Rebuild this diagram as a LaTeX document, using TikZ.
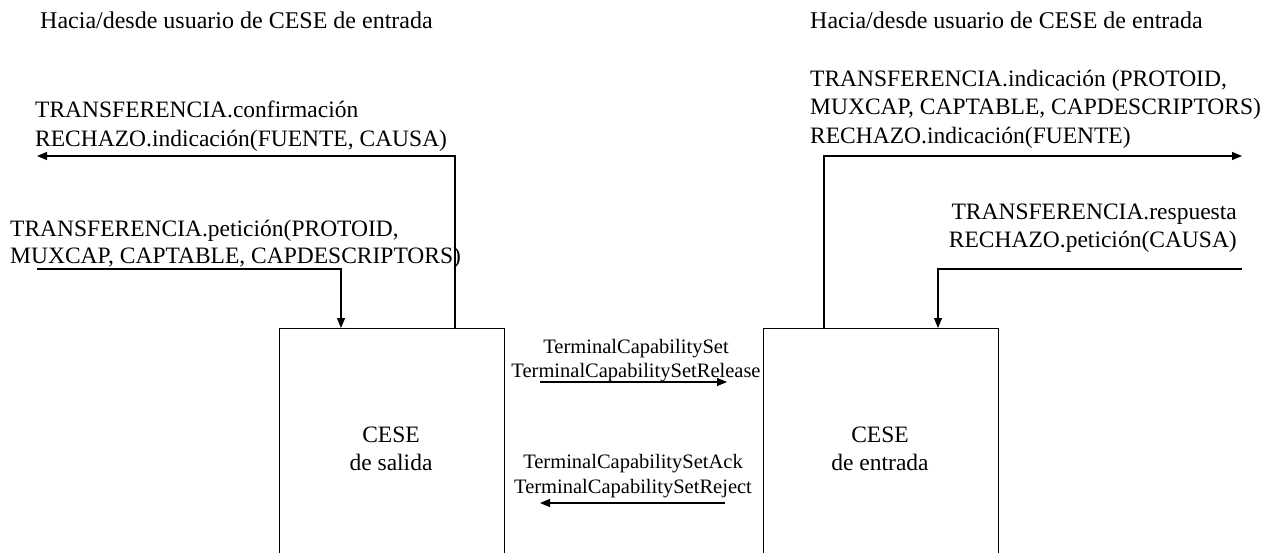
\documentclass[tikz,border=0pt]{standalone}
\usepackage{fontspec}
\setmainfont{Liberation Serif}
\usetikzlibrary{arrows.meta}
\begin{document}
\begin{tikzpicture}[x=1pt,y=-1pt,
  lbl/.style={inner sep=0pt,font=\fontsize{23.5}{28}\selectfont},
  hdr/.style={inner sep=0pt,font=\fontsize{24}{28}\selectfont},
  msg/.style={inner sep=0pt,font=\fontsize{20.5}{24}\selectfont},
  entity/.style={draw,line width=1.2pt,minimum width=225pt,minimum height=260pt,anchor=north west,inner sep=0pt},
  wire/.style={line width=1.2pt},
  arr/.style={wire,-{Triangle[length=10pt,width=8pt]}}]
\useasboundingbox (0,0) rectangle (1274,553);
\clip (0,0) rectangle (1274,553);
% boxes
\node[entity,minimum width=225pt] (out) at (279,328) {};
\node[entity,minimum width=235pt] (in) at (763,328) {};
\node[lbl,anchor=base] (outa) at (391,442) {CESE};
\node[lbl,anchor=base] (outb) at (391,470) {de salida};
\node[lbl,anchor=base] (ina) at (880,442) {CESE};
\node[lbl,anchor=base] (inb) at (880,470) {de entrada};
% headers
\node[hdr,anchor=base west] (h1) at (40,29) {Hacia/desde usuario de CESE de entrada};
\node[hdr,anchor=base west] (h2) at (810,29) {Hacia/desde usuario de CESE de entrada};
% left labels
\node[lbl,anchor=base west] (l1) at (35,118) {TRANSFERENCIA.confirmación};
\node[lbl,anchor=base west] (l2) at (35,147) {RECHAZO.indicación(FUENTE, CAUSA)};
\node[lbl,anchor=base west] (l3) at (10,237) {TRANSFERENCIA.petición(PROTOID,};
\node[lbl,anchor=base west] (l4) at (10,264) {MUXCAP, CAPTABLE, CAPDESCRIPTORS)};
% right labels
\node[lbl,anchor=base west] (r1) at (810,87) {TRANSFERENCIA.indicación (PROTOID,};
\node[lbl,anchor=base west] (r2) at (810,115) {MUXCAP, CAPTABLE, CAPDESCRIPTORS)};
\node[lbl,anchor=base west] (r3) at (810,144) {RECHAZO.indicación(FUENTE)};
\node[lbl,anchor=base east] (r4) at (1237,220) {TRANSFERENCIA.respuesta};
\node[lbl,anchor=base east] (r5) at (1237,248) {RECHAZO.petición(CAUSA)};
% middle labels
\node[msg,anchor=base] (m1) at (636,353) {TerminalCapabilitySet};
\node[msg,anchor=base] (m2) at (636,377) {TerminalCapabilitySetRelease};
\node[msg,anchor=base] (m3) at (633,468) {TerminalCapabilitySetAck};
\node[msg,anchor=base] (m4) at (633,493) {TerminalCapabilitySetReject};
% free ends
\coordinate (cL) at (37,156);
\coordinate (rqL) at (37,269);
\coordinate (cR) at (1242,156);
\coordinate (rsR) at (1242,269);
\coordinate (s1) at (540,382);
\coordinate (e1) at (727,382);
\coordinate (s2) at (725,503);
\coordinate (e2) at (540,503);
% connectors
\draw[arr] (out.north west -| 455,0) |- (cL);
\draw[arr] (rqL) -| (out.north west -| 341,0);
\draw[arr] (in.north west -| 824,0) |- (cR);
\draw[arr] (rsR) -| (in.north west -| 938,0);
\draw[arr] (s1) -- (e1);
\draw[arr] (s2) -- (e2);
\end{tikzpicture}
\end{document}
